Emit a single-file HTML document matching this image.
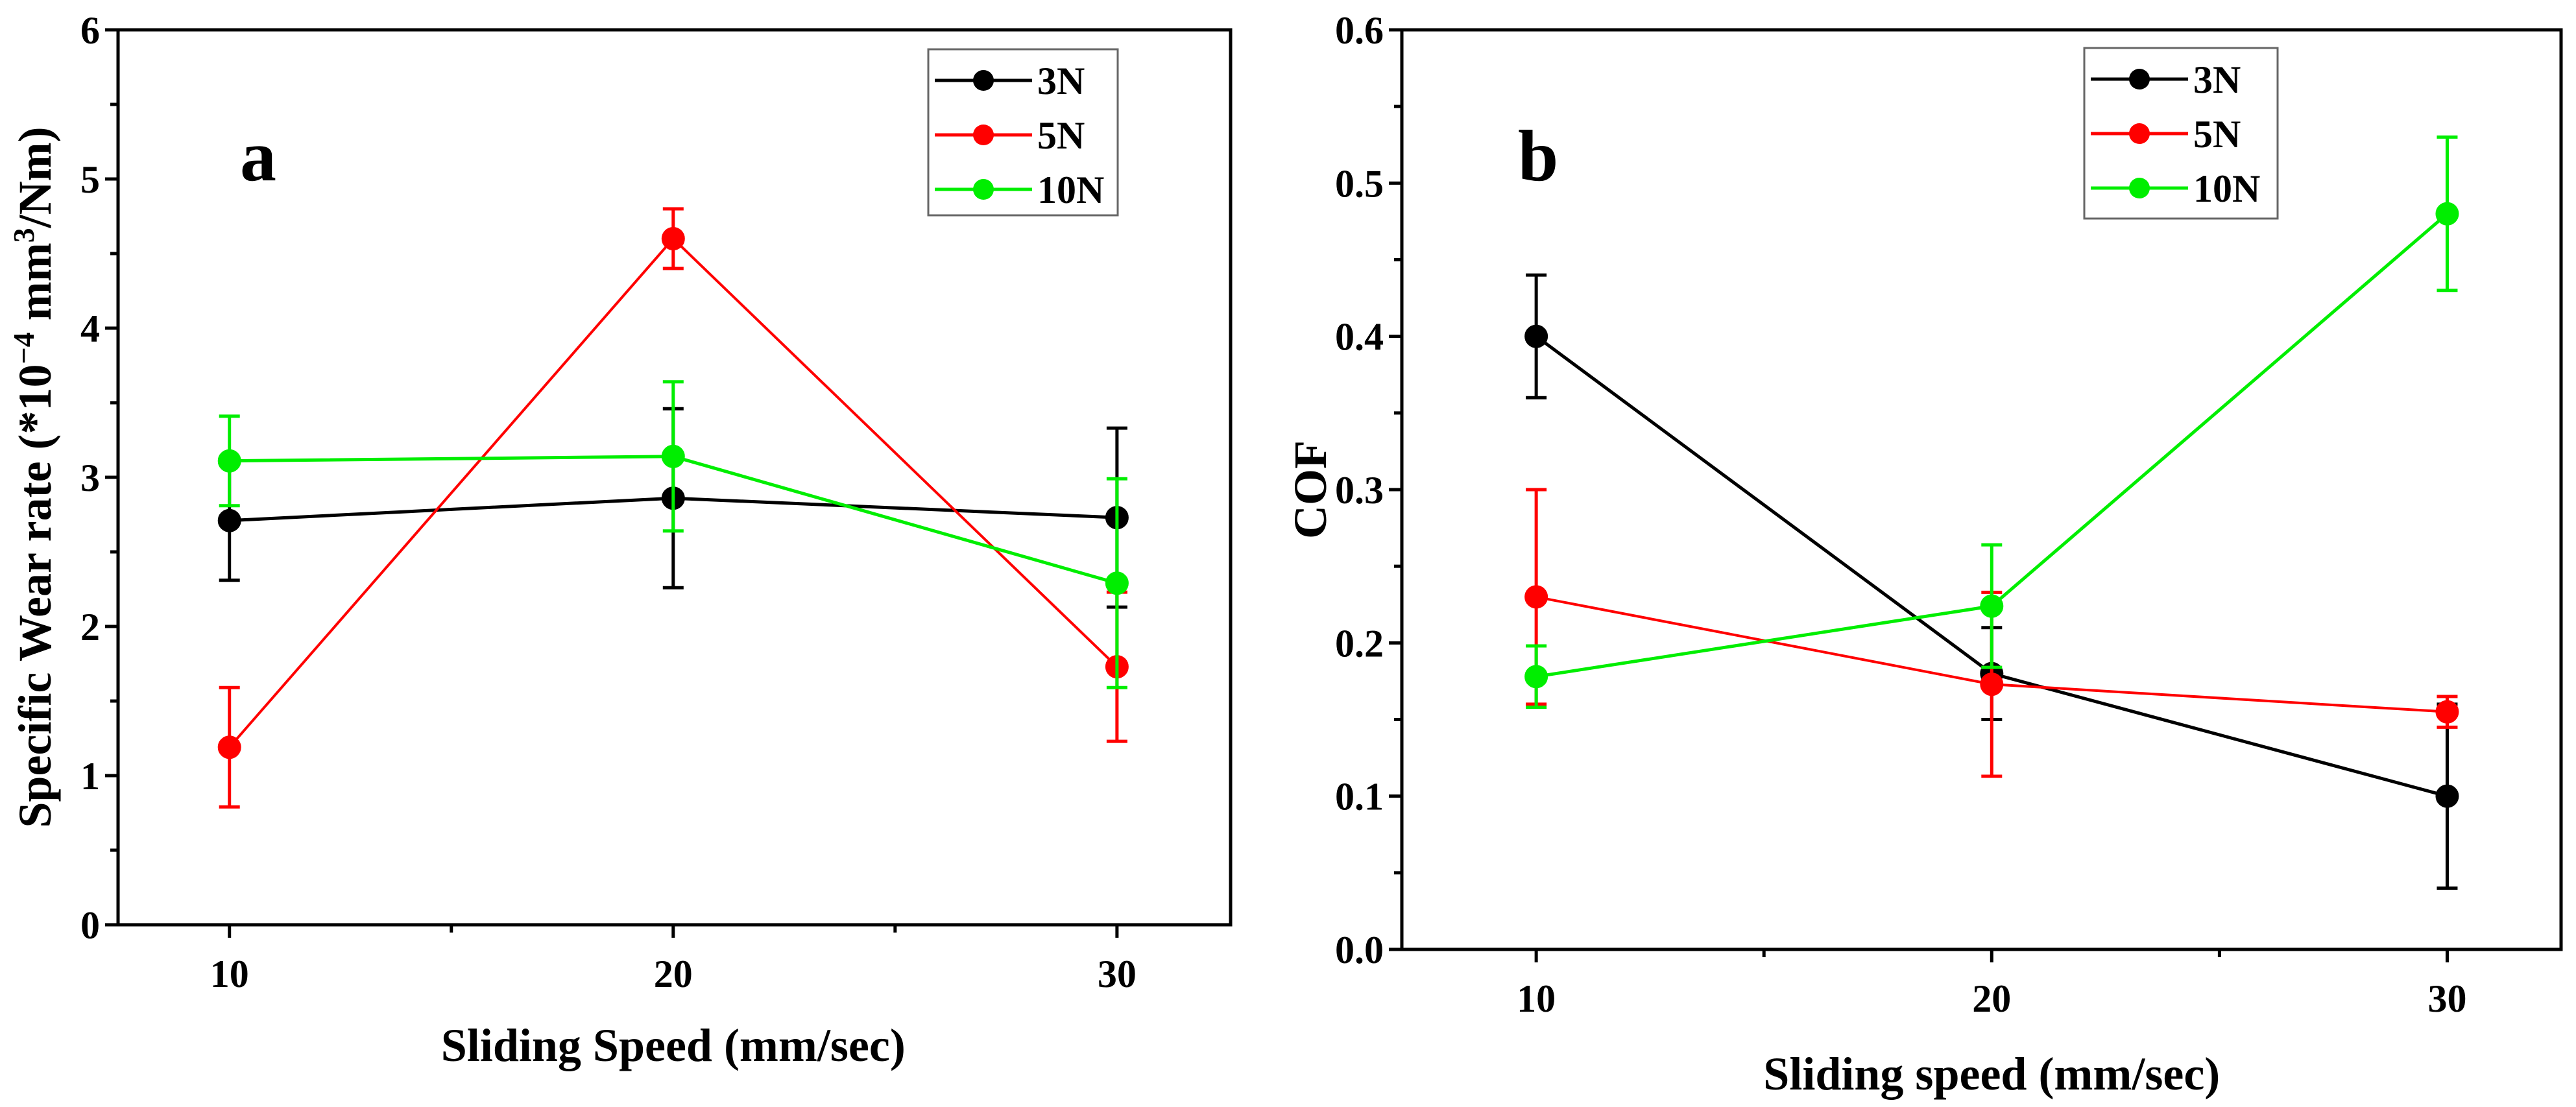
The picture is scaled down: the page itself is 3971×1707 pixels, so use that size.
<!DOCTYPE html>
<html><head><meta charset="utf-8"><style>
html,body{margin:0;padding:0;background:#fff}
svg{display:block}
text{font-family:"Liberation Serif",serif;font-weight:bold;fill:#000}
</style></head><body>
<svg id="c" width="3971" height="1707" viewBox="0 0 3971 1707"></svg>
<script>
const xCats = [10, 20, 30];
const seriesNames = ["3N", "5N", "10N"];
const seriesColors = ["#000000", "#ff0000", "#00ee00"];
const wearValues = [[2.71, 2.86, 2.73], [1.19, 4.60, 1.73], [3.11, 3.14, 2.29]];
const wearErrors = [[0.40, 0.60, 0.60], [0.40, 0.20, 0.50], [0.30, 0.50, 0.70]];
const cofValues = [[0.40, 0.18, 0.10], [0.23, 0.173, 0.155], [0.178, 0.224, 0.48]];
const cofErrors = [[0.04, 0.03, 0.06], [0.07, 0.06, 0.01], [0.02, 0.04, 0.05]];
const wearTicks = ["0", "1", "2", "3", "4", "5", "6"];
const cofTicks = ["0.0", "0.1", "0.2", "0.3", "0.4", "0.5", "0.6"];
const xTickLabels = ["10", "20", "30"];

const NS = "http://www.w3.org/2000/svg";
const svg = document.getElementById("c");
function mk(tag, attrs, parent, txt) {
  const e = document.createElementNS(NS, tag);
  for (const k in attrs) e.setAttribute(k, attrs[k]);
  if (txt !== undefined) e.textContent = txt;
  (parent || svg).appendChild(e);
  return e;
}

function panel(cfg) {
  const g = mk("g", {});
  
  
  const L = cfg.left, R = cfg.right, T = cfg.top, B = cfg.bottom;
  const xs = v => L + (v - cfg.xmin) / (cfg.xmax - cfg.xmin) * (R - L);
  const ys = v => B - (v - cfg.ymin) / (cfg.ymax - cfg.ymin) * (B - T);
  const fr = mk("rect", {x: L, y: T, width: R - L, height: B - T, fill: "none", stroke: "#000", "stroke-width": 5}, g);
  
  
  const n = cfg.yTicks.length;
  for (let i = 0; i < n; i++) {
    const v = cfg.ymin + i * (cfg.ymax - cfg.ymin) / (n - 1);
    const y = ys(v);
    mk("line", {x1: L - 20, x2: L, y1: y, y2: y, stroke: "#000", "stroke-width": 5}, g);
    const t = mk("text", {x: L - 28, y: y + 21, "text-anchor": "end", "font-size": 60}, g, cfg.yTicks[i]);
    
    
    if (i < n - 1) {
      const ym = ys(v + (cfg.ymax - cfg.ymin) / (n - 1) / 2);
      mk("line", {x1: L - 12, x2: L, y1: ym, y2: ym, stroke: "#000", "stroke-width": 5}, g);
    }
  }
  xCats.forEach((c, i) => {
    const x = xs(c);
    mk("line", {x1: x, x2: x, y1: B, y2: B + 20, stroke: "#000", "stroke-width": 5}, g);
    const t = mk("text", {x: x, y: B + 96, "text-anchor": "middle", "font-size": 60}, g, xTickLabels[i]);
    
    
    if (i < xCats.length - 1) {
      const xm = xs((c + xCats[i + 1]) / 2);
      mk("line", {x1: xm, x2: xm, y1: B, y2: B + 12, stroke: "#000", "stroke-width": 5}, g);
    }
  });
  const xt = mk("text", {x: (xs(10) + xs(30)) / 2, y: cfg.xTitleY, "text-anchor": "middle", "font-size": 72}, g, cfg.xTitle);
  
  
  const yt = mk("text", {x: 0, y: 0, "text-anchor": "middle", "font-size": 72, transform: `translate(${cfg.yTitleX},${(T + B) / 2}) rotate(-90)`}, g);
  yt.innerHTML = cfg.yTitleHtml;
  
  
  const pl = mk("text", {x: cfg.labelX, y: cfg.labelY, "font-size": 112}, g, cfg.label);
  
  
  cfg.values.forEach((vals, s) => {
    const sg = mk("g", {}, g);
    
    
    const col = seriesColors[s];
    const pts = vals.map((v, i) => xs(xCats[i]) + "," + ys(v)).join(" ");
    const ln = mk("polyline", {points: pts, fill: "none", stroke: col, "stroke-width": s === 1 ? 4 : 5}, sg);
    
    
    vals.forEach((v, i) => {
      const x = xs(xCats[i]), e = cfg.errors[s][i];
      const y1 = ys(v - e), y2 = ys(v + e);
      const eb = mk("path", {d: `M${x},${y1}V${y2}M${x - 16},${y1}H${x + 16}M${x - 16},${y2}H${x + 16}`, stroke: col, "stroke-width": 5, fill: "none"}, sg);
      
      
      const p = mk("circle", {cx: x, cy: ys(v), r: 17, fill: col, stroke: s === 0 ? "#000" : col, "stroke-width": 2}, sg);
      
      
    });
  });
  const lg = mk("g", {}, g);
  
  
  mk("rect", {x: cfg.legX, y: cfg.legY, width: cfg.legW, height: cfg.legH, fill: "#fff", stroke: "#666", "stroke-width": 3}, lg);
  seriesNames.forEach((nm, s) => {
    const ey = cfg.legY + 48 + s * 84;
    const e = mk("g", {}, lg);
    
    
    mk("line", {x1: cfg.legX + 10, x2: cfg.legX + 160, y1: ey, y2: ey, stroke: seriesColors[s], "stroke-width": 5}, e);
    mk("circle", {cx: cfg.legX + 85, cy: ey, r: 16, fill: seriesColors[s]}, e);
    mk("text", {x: cfg.legX + 168, y: ey + 21, "font-size": 60}, e, nm);
  });
}

panel({name: "panel-a-wear-rate", left: 182, right: 1897, top: 46, bottom: 1426,
  xmin: 7.49, xmax: 32.56, ymin: 0, ymax: 6, yTicks: wearTicks,
  values: wearValues, errors: wearErrors,
  xTitle: "Sliding Speed (mm/sec)", xTitleY: 1636, yTitleX: 78,
  yTitleHtml: 'Specific Wear rate (*10<tspan dy="-26" font-size="46">−4</tspan><tspan dy="26"> mm</tspan><tspan dy="-26" font-size="46">3</tspan><tspan dy="26">/Nm)</tspan>',
  label: "a", labelX: 370, labelY: 278,
  legX: 1431, legY: 76, legW: 292, legH: 256});
panel({name: "panel-b-cof", left: 2161, right: 3948, top: 46, bottom: 1464,
  xmin: 7.05, xmax: 32.5, ymin: 0, ymax: 0.6, yTicks: cofTicks,
  values: cofValues, errors: cofErrors,
  xTitle: "Sliding speed (mm/sec)", xTitleY: 1680, yTitleX: 2044,
  yTitleHtml: 'COF',
  label: "b", labelX: 2340, labelY: 278,
  legX: 3213, legY: 74, legW: 298, legH: 263});
</script>
</body></html>
